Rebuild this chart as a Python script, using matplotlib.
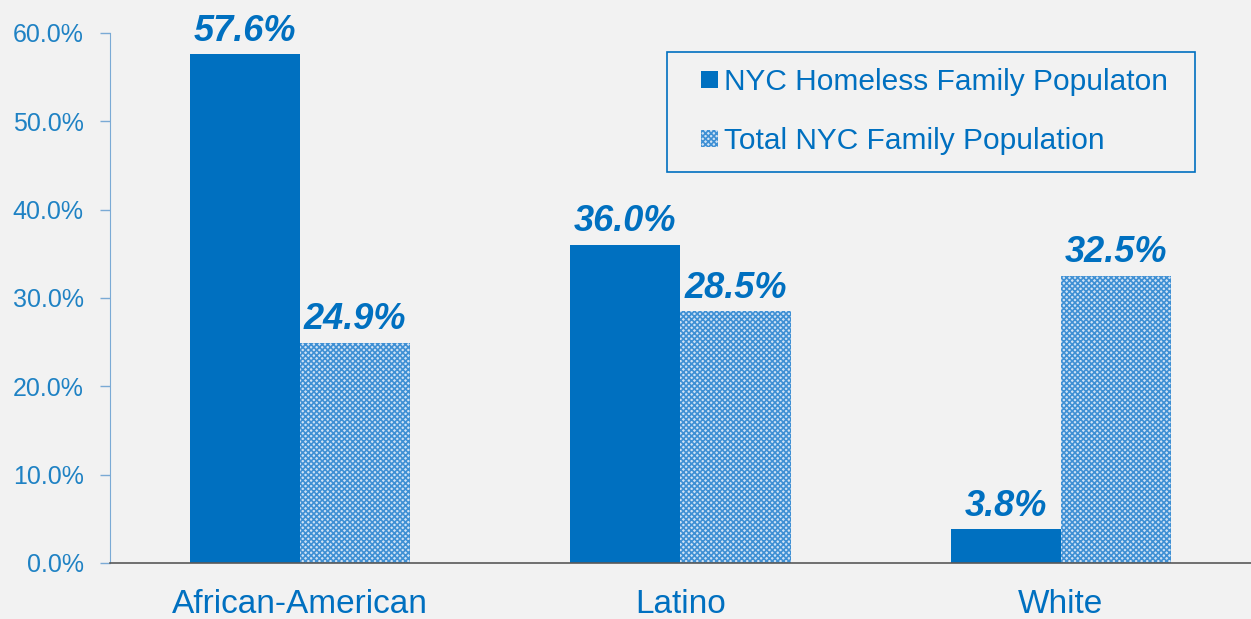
import matplotlib.pyplot as plt
import numpy as np
from matplotlib.patches import Rectangle
from matplotlib.legend_handler import HandlerPatch

plt.rcParams['font.family'] = ['Liberation Sans', 'DejaVu Sans']
plt.rcParams['hatch.linewidth'] = 1.2

categories = ['African-American', 'Latino', 'White']
homeless = [57.6, 36.0, 3.8]
total = [24.9, 28.5, 32.5]
series_names = ['NYC Homeless Family Populaton', 'Total NYC Family Population']
yticks = [0, 10, 20, 30, 40, 50, 60]

blue = '#0070c0'
bg = '#f2f2f2'

fig = plt.figure(figsize=(12.51, 6.19), dpi=100, facecolor=bg)
ax = fig.add_axes([0.0879, 0.0905, 0.9121, 0.8562], facecolor=bg)

x = np.arange(len(categories))
w = 0.29
b1 = ax.bar(x - w / 2, homeless, w, color=blue, linewidth=0)
b2 = ax.bar(x + w / 2, total, w, facecolor='#cfe2f5', edgecolor='#3f90d4',
            hatch='xxxxxx', linewidth=0)

for bars in (b1, b2):
    ax.bar_label(bars, labels=['%.1f%%' % v for v in bars.datavalues], padding=4,
                 fontsize=26, fontweight='bold', fontstyle='italic', color=blue)

ax.set_xlim(-0.5, 2.5)
ax.set_ylim(0, 60)
ax.set_yticks(yticks)
ax.set_yticklabels(['%.1f%%' % t for t in yticks])
ax.set_xticks(x)
ax.set_xticklabels(categories)

ax.tick_params(axis='y', length=7, width=1, color='#7aaad5', labelcolor='#1f82c4',
               labelsize=18, pad=12)
ax.tick_params(axis='x', length=0, labelcolor=blue, labelsize=24, pad=19)

for s in ('top', 'right'):
    ax.spines[s].set_visible(False)
ax.spines['left'].set_color('#7aaad5')
ax.spines['bottom'].set_color('#595959')
ax.spines['bottom'].set_linewidth(1.2)


# small square marker sitting at the right end of the handle area
def small_square(legend, orig_handle, xdescent, ydescent, width, height, fontsize):
    s = height
    return Rectangle((width - s - xdescent, -ydescent), s, s)


leg = ax.legend([b1.patches[0], b2.patches[0]], series_names,
                loc='upper left', bbox_to_anchor=(0.4882, 0.964, 0.4628, 0),
                mode='expand', borderaxespad=0,
                fontsize=21.5, labelcolor=blue, frameon=True, fancybox=False,
                facecolor=bg, edgecolor=blue, framealpha=1,
                handlelength=1.15, handleheight=0.5, handletextpad=0.2,
                borderpad=0.55, labelspacing=1.03,
                handler_map={Rectangle: HandlerPatch(patch_func=small_square)})
leg.get_frame().set_linewidth(1.2)

fig.savefig('out.png', dpi=100, facecolor=bg)
